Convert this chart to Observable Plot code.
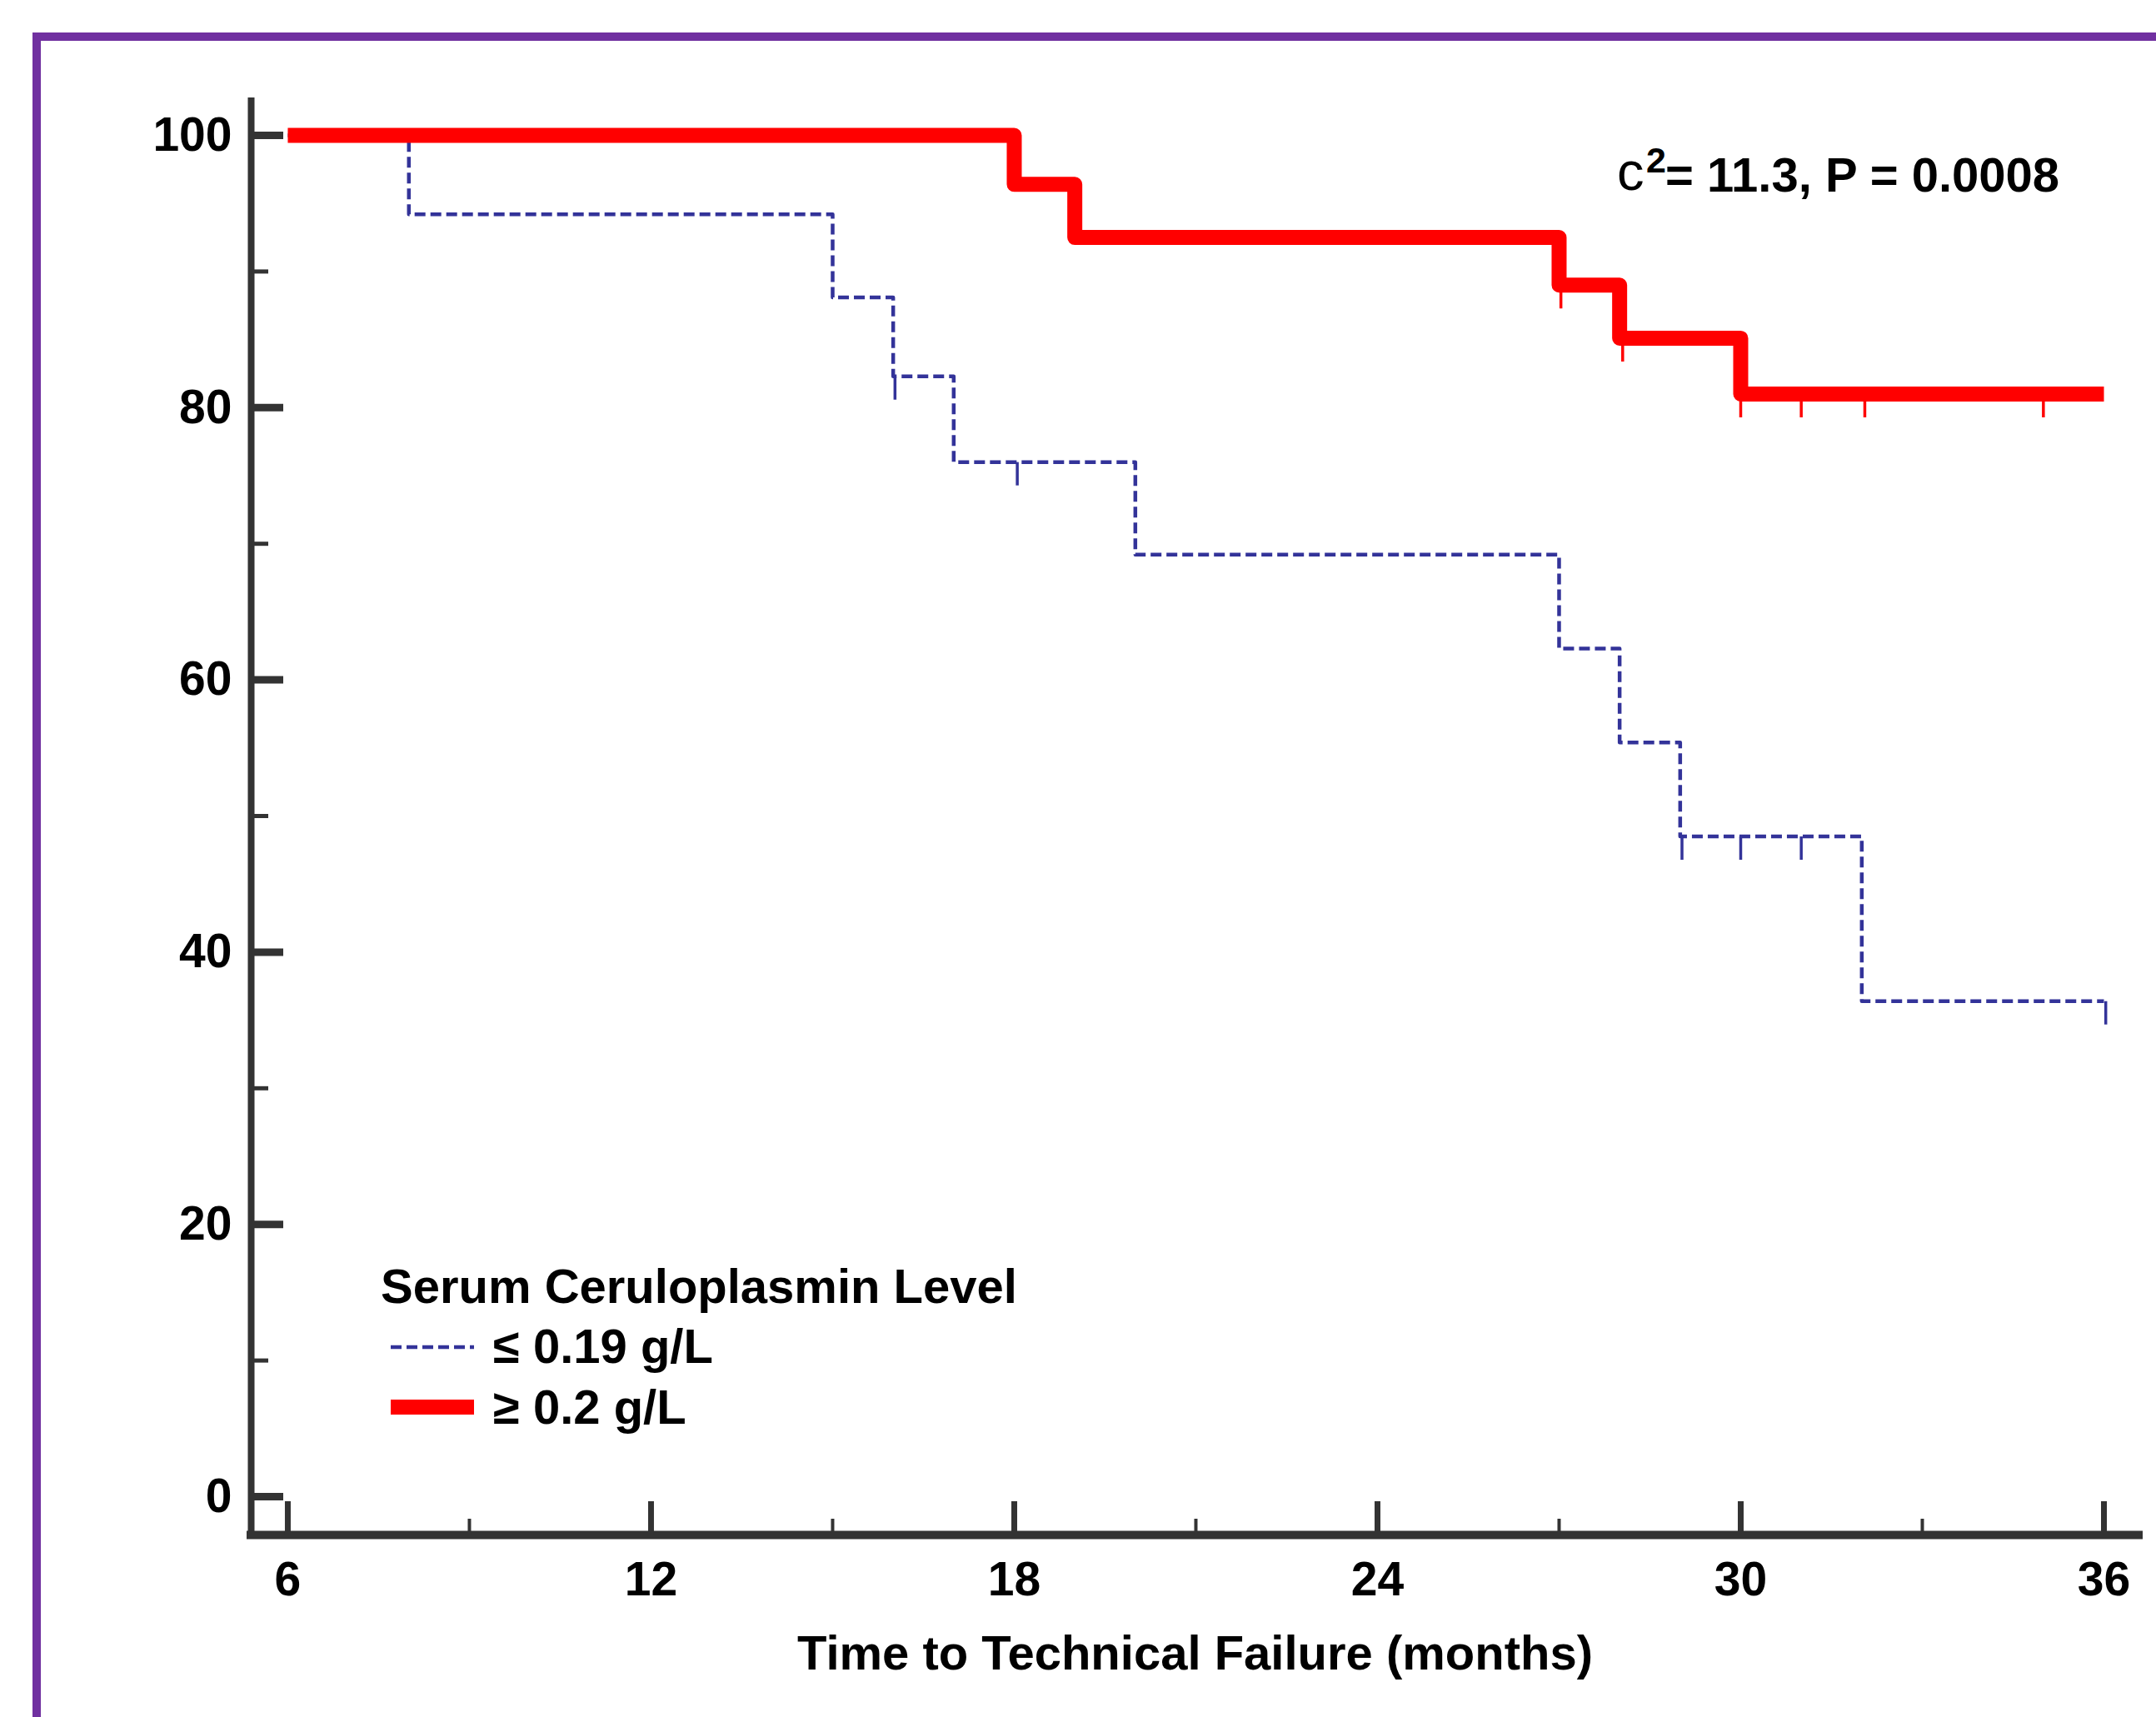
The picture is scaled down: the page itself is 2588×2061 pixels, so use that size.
<!DOCTYPE html>
<html>
<head>
<meta charset="utf-8">
<script src="https://cdn.jsdelivr.net/npm/d3@7"></script>
<script src="https://cdn.jsdelivr.net/npm/@observablehq/plot@0.6"></script>
<style>
  html, body { margin: 0; padding: 0; background: #ffffff; }
  #wrap { position: relative; width: 2588px; height: 2061px; overflow: hidden; background: #fff; }
  #wrap > svg { position: absolute; left: 0; top: 0; }
</style>
</head>
<body>
<div id="wrap"></div>
<script>
// ---------------- data ----------------
const lowTimes = [6, 8, 15, 16, 17, 20, 27, 28, 29, 32, 36];
const lowSurvival = [100, 94.2, 88.1, 82.3, 76.0, 69.2, 62.3, 55.4, 48.5, 36.4, 36.4];
const lowCensorTimes = [16.03, 18.05, 29.03, 30.0, 31.0, 36.03];
const lowCensorSurvival = [82.3, 76.0, 48.5, 48.5, 48.5, 36.4];

const highTimes = [6, 18, 19, 27, 28, 30, 36];
const highSurvival = [100, 96.4, 92.5, 89.0, 85.1, 81.0, 81.0];
const highCensorTimes = [27.03, 28.05, 30.0, 31.0, 32.05, 35.0];
const highCensorSurvival = [89.0, 85.1, 81.0, 81.0, 81.0, 81.0];

const xMajorTicks = [6, 12, 18, 24, 30, 36];
const xMinorTicks = [9, 15, 21, 27, 33];
const yMajorTicks = [0, 20, 40, 60, 80, 100];
const yMinorTicks = [10, 30, 50, 70, 90];

const legendTitle = "Serum Ceruloplasmin Level";
const groupLabels = ["≤ 0.19 g/L", "≥ 0.2 g/L"];
const groupColors = ["#333399", "#ff0000"];
const xLabel = "Time to Technical Failure (months)";
const statParts = ["c", "2", "= 11.3, P = 0.0008"];

// ---------------- tables ----------------
const low = lowTimes.map((t, i) => ({t, s: lowSurvival[i]}));
const high = highTimes.map((t, i) => ({t, s: highSurvival[i]}));
const lowCensor = lowCensorTimes.map((t, i) => ({t, s: lowCensorSurvival[i]}));
const highCensor = highCensorTimes.map((t, i) => ({t, s: highCensorSurvival[i]}));

const xDomain = [5.395, 36.578];
const yDomain = [-2.815, 102.754];
const FONT = "'Liberation Sans', Arial, Helvetica, sans-serif";
const AXIS = "#333333";

// custom symbol: short vertical tick hanging below the point (censor mark)
const tickDown = {
  draw(ctx, size) {
    const l = Math.sqrt(size / Math.PI);
    ctx.moveTo(0, 0);
    ctx.lineTo(0, l);
  }
};

const chart = Plot.plot({
  width: 2588,
  height: 2061,
  marginLeft: 301,
  marginRight: 21,
  marginTop: 117,
  marginBottom: 219,
  x: {domain: xDomain},
  y: {domain: yDomain},
  style: {fontFamily: FONT, fontSize: "57px", fontWeight: "bold", background: "transparent", color: "black", overflow: "visible"},
  marks: [
    // axis lines
    Plot.ruleX([xDomain[0]], {stroke: AXIS, strokeWidth: 8}),
    Plot.ruleY([yDomain[0]], {stroke: AXIS, strokeWidth: 10, strokeLinecap: "square"}),
    // y ticks (inward)
    Plot.axisY({ticks: yMajorTicks, tickSize: -39, strokeWidth: 9, stroke: AXIS, fill: "none", label: null, tickFormat: () => ""}),
    Plot.axisY({ticks: yMinorTicks, tickSize: -21, strokeWidth: 5, stroke: AXIS, fill: "none", label: null, tickFormat: () => ""}),
    Plot.axisY({ticks: yMajorTicks, tickSize: 0, tickPadding: 23, fill: "black", label: null}),
    // x ticks (inward)
    Plot.axisX({ticks: xMajorTicks, tickSize: -40, strokeWidth: 7, stroke: AXIS, fill: "none", label: null, tickFormat: () => ""}),
    Plot.axisX({ticks: xMinorTicks, tickSize: -19, strokeWidth: 4, stroke: AXIS, fill: "none", label: null, tickFormat: () => ""}),
    Plot.axisX({ticks: xMajorTicks, tickSize: 0, tickPadding: 32, fill: "black", label: null}),
    // x axis title
    Plot.text([xLabel], {text: d => d, frameAnchor: "bottom", dy: 161, lineAnchor: "bottom", fill: "black", fontSize: 58, fontWeight: "bold"}),
    // low group (dashed)
    Plot.line(low, {x: "t", y: "s", curve: "step-after", stroke: groupColors[0], strokeWidth: 4.5, strokeDasharray: "13,6", strokeLinecap: "butt", strokeLinejoin: "round"}),
    Plot.dot(lowCensor, {x: "t", y: "s", symbol: tickDown, r: 28, stroke: groupColors[0], strokeWidth: 3.5, fill: "none"}),
    // high group (thick)
    Plot.line(high, {x: "t", y: "s", curve: "step-after", stroke: groupColors[1], strokeWidth: 18, strokeLinecap: "butt", strokeLinejoin: "round"}),
    Plot.dot(highCensor, {x: "t", y: "s", symbol: tickDown, r: 28, stroke: groupColors[1], strokeWidth: 3.5, fill: "none"})
  ]
});

const wrap = document.getElementById("wrap");
wrap.appendChild(chart);

// ---------------- overlay: frame border, legend, statistic ----------------
const ov = d3.create("svg")
  .attr("width", 2588).attr("height", 2061)
  .attr("viewBox", "0 0 2588 2061")
  .style("font-family", FONT);

// purple frame (top and left edges visible)
ov.append("path")
  .attr("d", "M44,2061 L44,44 L2588,44")
  .attr("fill", "none")
  .attr("stroke", "#7030a0")
  .attr("stroke-width", 10)
  .attr("stroke-linecap", "square");

// statistic annotation
const stat = ov.append("g").attr("fill", "black");
stat.append("text").attr("x", 1941).attr("y", 228).attr("font-size", 65).attr("font-weight", "normal").text(statParts[0]);
stat.append("text").attr("x", 1976).attr("y", 207).attr("font-size", 43).attr("font-weight", "bold").text(statParts[1]);
stat.append("text").attr("x", 1999).attr("y", 230).attr("font-size", 58).attr("font-weight", "bold").text(statParts[2]);

// legend
const lg = ov.append("g").attr("font-size", 58).attr("font-weight", "bold").attr("fill", "black");
lg.append("text").attr("x", 457).attr("y", 1564).text(legendTitle);
lg.append("line").attr("x1", 469).attr("x2", 569).attr("y1", 1617).attr("y2", 1617)
  .attr("stroke", groupColors[0]).attr("stroke-width", 4.5).attr("stroke-dasharray", "13,6");
lg.append("text").attr("x", 592).attr("y", 1636).text(groupLabels[0]);
lg.append("line").attr("x1", 469).attr("x2", 569).attr("y1", 1689).attr("y2", 1689)
  .attr("stroke", groupColors[1]).attr("stroke-width", 18);
lg.append("text").attr("x", 592).attr("y", 1709).text(groupLabels[1]);

wrap.appendChild(ov.node());
</script>
</body>
</html>
